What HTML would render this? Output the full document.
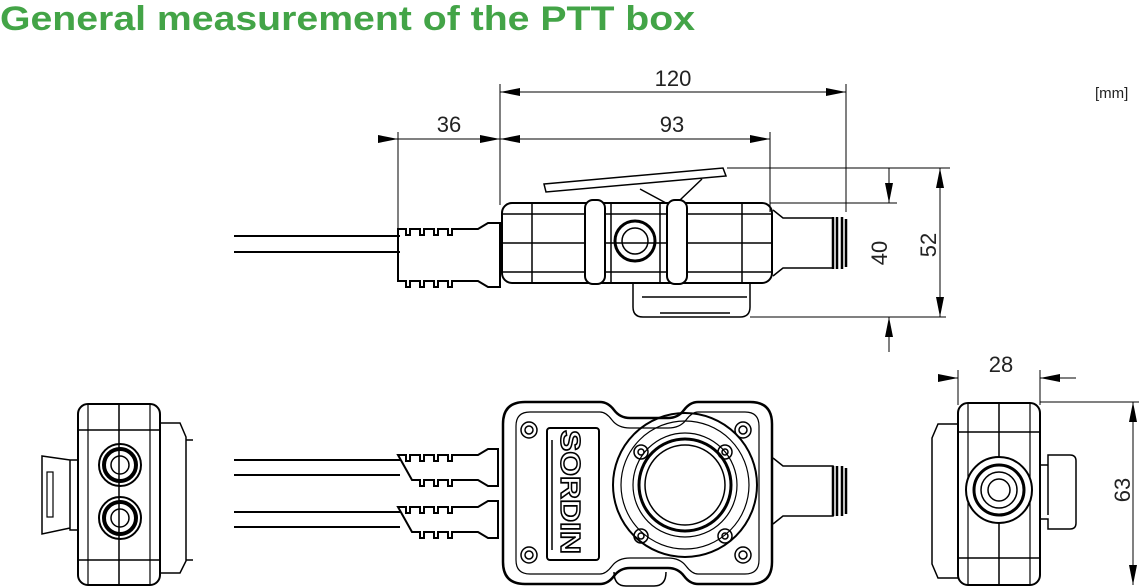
<!DOCTYPE html>
<html><head><meta charset="utf-8"><style>
html,body{margin:0;padding:0;background:#fff;width:1139px;height:588px;overflow:hidden}
svg{display:block}
text{font-family:"Liberation Sans",sans-serif}
</style></head><body>
<svg width="1139" height="588" viewBox="0 0 1139 588" xmlns="http://www.w3.org/2000/svg">
<defs>
<marker id="a" viewBox="0 0 20 8" refX="20" refY="4" markerWidth="20" markerHeight="8" markerUnits="userSpaceOnUse" orient="auto"><path d="M0,0 L20,4 L0,8 z" fill="#000"/></marker>
</defs>
<text x="0" y="30" font-size="34" font-weight="bold" fill="#43a447" textLength="695" lengthAdjust="spacingAndGlyphs">General measurement of the PTT box</text>
<text x="1095" y="98" font-size="15" fill="#222">[mm]</text>

<g stroke="#000" stroke-width="1" fill="none">
<line x1="500" y1="84" x2="500" y2="205"/>
<line x1="846" y1="84" x2="846" y2="212"/>
<line x1="398" y1="132" x2="398" y2="228"/>
<line x1="770" y1="132" x2="770" y2="212"/>
<line x1="727" y1="168" x2="950" y2="168"/>
<line x1="770" y1="203" x2="897" y2="203"/>
<line x1="750" y1="317" x2="946" y2="317"/>
<line x1="958" y1="370" x2="958" y2="405"/>
<line x1="1040" y1="370" x2="1040" y2="405"/>
<line x1="1040" y1="402" x2="1139" y2="402"/>
<line x1="520" y1="92" x2="500" y2="92" marker-end="url(#a)"/>
<line x1="826" y1="92" x2="846" y2="92" marker-end="url(#a)"/>
<line x1="520" y1="92" x2="826" y2="92"/>
<line x1="378" y1="139" x2="398" y2="139" marker-end="url(#a)"/>
<line x1="398" y1="139" x2="480" y2="139"/>
<line x1="480" y1="139" x2="500" y2="139" marker-end="url(#a)"/>
<line x1="520" y1="139" x2="500" y2="139" marker-end="url(#a)"/>
<line x1="520" y1="139" x2="750" y2="139"/>
<line x1="750" y1="139" x2="770" y2="139" marker-end="url(#a)"/>
<line x1="889" y1="168" x2="889" y2="203" marker-end="url(#a)"/>
<line x1="889" y1="352" x2="889" y2="317" marker-end="url(#a)"/>
<line x1="940" y1="190" x2="940" y2="168" marker-end="url(#a)"/>
<line x1="940" y1="295" x2="940" y2="317" marker-end="url(#a)"/>
<line x1="940" y1="190" x2="940" y2="295"/>
<line x1="938" y1="378" x2="958" y2="378" marker-end="url(#a)"/>
<line x1="1076" y1="378" x2="1040" y2="378" marker-end="url(#a)"/>
<line x1="1133" y1="424" x2="1133" y2="402" marker-end="url(#a)"/>
<line x1="1133" y1="563" x2="1133" y2="585" marker-end="url(#a)"/>
<line x1="1133" y1="424" x2="1133" y2="563"/>
</g>
<g font-size="22" fill="#222" text-anchor="middle">
<text x="673" y="86">120</text>
<text x="449" y="132">36</text>
<text x="672" y="132">93</text>
<text x="1001" y="372">28</text>
<text transform="translate(887,253) rotate(-90)">40</text>
<text transform="translate(936,245) rotate(-90)">52</text>
<text transform="translate(1130,490) rotate(-90)">63</text>
</g>

<g stroke="#000" stroke-width="2" fill="none">
<!-- TOP VIEW -->
<line x1="234" y1="236" x2="400" y2="236"/>
<line x1="234" y1="252" x2="400" y2="252"/>
<path d="M398,229 h8 v6 h4 v-6 h10 v6 h4 v-6 h10 v6 h4 v-6 h10 v6 h4 v-6 h26 l10,-6 h12 v64 h-12 l-10,-6 h-26 v6 h-4 v-6 h-10 v6 h-4 v-6 h-10 v6 h-4 v-6 h-10 v6 h-4 v-6 h-8 z"/>
<rect x="502" y="203" width="270" height="80" rx="10"/>
<line x1="502" y1="214" x2="772" y2="214" stroke-width="1.5"/>
<line x1="502" y1="243" x2="772" y2="243" stroke-width="1.5"/>
<line x1="502" y1="272" x2="772" y2="272" stroke-width="1.5"/>
<line x1="532" y1="203" x2="532" y2="283" stroke-width="1.5"/>
<line x1="742" y1="203" x2="742" y2="283" stroke-width="1.5"/>
<line x1="611" y1="203" x2="611" y2="283" stroke-width="1.5"/>
<line x1="660" y1="203" x2="660" y2="283" stroke-width="1.5"/>
<rect x="585" y="200" width="20" height="84" rx="8" fill="#fff"/>
<rect x="667" y="200" width="20" height="84" rx="8" fill="#fff"/>
<circle cx="635" cy="241" r="20" stroke-width="3"/>
<circle cx="635" cy="241" r="13" stroke-width="1.5"/>
<path d="M544,184 L723,168 L726,176 L546,192 z" stroke-width="1.5"/>
<path d="M640,189 L666,203 M702,179 L680,200" stroke-width="1.5"/>
<path d="M633,283 v24 q0,10 10,10 h97 q10,0 10,-10 v-24" stroke-width="1.5"/>
<path d="M642,297 h105 M660,313 h70" stroke-width="1.5"/>
<path d="M773,210 l10,8 h50 v50 h-50 l-10,8" stroke-width="1.5"/>
<path d="M833,217 v52 M837,217 v52 M842,217 v52 M846,219 v48" stroke-width="2.5"/>

<!-- FRONT VIEW -->
<line x1="234" y1="460" x2="400" y2="460"/>
<line x1="234" y1="475" x2="400" y2="475"/>
<line x1="234" y1="512" x2="400" y2="512"/>
<line x1="234" y1="527" x2="400" y2="527"/>
<path d="M398,455 h8 v6 h4 v-6 h10 v6 h4 v-6 h10 v6 h4 v-6 h10 v6 h4 v-6 h26 l10,-6 h10 v37 h-10 l-10,-6 h-26 v6 h-4 v-6 h-10 v6 h-4 v-6 h-10 v6 h-4 v-6 h-8 z"/>
<path d="M398,507 h8 v6 h4 v-6 h10 v6 h4 v-6 h10 v6 h4 v-6 h10 v6 h4 v-6 h26 l10,-6 h10 v37 h-10 l-10,-6 h-26 v6 h-4 v-6 h-10 v6 h-4 v-6 h-10 v6 h-4 v-6 h-8 z"/>
<path d="M525,402 h75 q8,0 14,8 q6,8 16,8 h38 q10,0 16,-8 q6,-8 14,-8 h52 q22,0 22,22 v138 q0,22 -22,22 h-52 q-8,0 -14,-8 q-6,-8 -16,-8 h-38 q-10,0 -16,8 q-6,8 -14,8 h-75 q-22,0 -22,-22 v-138 q0,-22 22,-22 z" stroke-width="2.5"/>
<path d="M530,412 h70 q6,0 12,8 q6,8 18,8 h38 q12,0 18,-8 q6,-8 12,-8 h47 q14,0 14,14 v134 q0,14 -14,14 h-47 q-6,0 -12,-8 q-6,-8 -18,-8 h-38 q-12,0 -18,8 q-6,8 -12,8 h-70 q-14,0 -14,-14 v-134 q0,-14 14,-14 z" stroke-width="1.2"/>
<rect x="547" y="428" width="52" height="132" rx="3"/>
<line x1="552" y1="440" x2="552" y2="550" stroke-width="1.5"/>
<text x="0" y="0" transform="translate(561,430) rotate(90)" font-size="28" font-weight="bold" fill="#fff" stroke="#000" stroke-width="1.5" textLength="124" lengthAdjust="spacingAndGlyphs">SORDIN</text>
<circle cx="685" cy="485" r="72" stroke-width="2"/>
<circle cx="685" cy="485" r="64" stroke-width="1.2"/>
<circle cx="685" cy="485" r="52" stroke-width="1.2"/>
<circle cx="685" cy="485" r="46" stroke-width="3"/>
<circle cx="685" cy="485" r="40" stroke-width="1.5"/>
<g stroke-width="1.5">
<circle cx="641" cy="452" r="7"/><circle cx="641" cy="452" r="3"/>
<circle cx="725" cy="452" r="7"/><circle cx="725" cy="452" r="3"/>
<circle cx="641" cy="536" r="7"/><circle cx="641" cy="536" r="3"/>
<circle cx="725" cy="536" r="7"/><circle cx="725" cy="536" r="3"/>
<circle cx="529" cy="430" r="8"/><circle cx="529" cy="430" r="4"/>
<circle cx="743" cy="430" r="8"/><circle cx="743" cy="430" r="4"/>
<circle cx="529" cy="555" r="8"/><circle cx="529" cy="555" r="4"/>
<circle cx="743" cy="555" r="8"/><circle cx="743" cy="555" r="4"/>
</g>
<path d="M773,458 l10,8 h50 v50 h-50 l-10,8" stroke-width="1.5"/>
<path d="M833,466 v50 M837,466 v50 M842,466 v50 M846,468 v46" stroke-width="2.5"/>
<path d="M614,572 q0,14 12,14 h28 q12,0 12,-14" stroke-width="1.5"/>

<!-- LEFT VIEW -->
<rect x="78" y="404" width="82" height="181" rx="10"/>
<line x1="119" y1="404" x2="119" y2="585" stroke-width="1.5"/>
<line x1="78" y1="430" x2="160" y2="430" stroke-width="1.5"/>
<line x1="78" y1="560" x2="160" y2="560" stroke-width="1.5"/>
<line x1="88" y1="404" x2="88" y2="585" stroke-width="1.2"/>
<line x1="150" y1="404" x2="150" y2="585" stroke-width="1.2"/>
<path d="M160,423 h20 l6,14 v124 l-6,12 h-20" stroke-width="1.5"/>
<line x1="186" y1="440" x2="193" y2="440" stroke-width="1.5"/>
<line x1="186" y1="560" x2="193" y2="560" stroke-width="1.5"/>
<path d="M78,460 h-8 v70 h8 M70,460 l-28,-4 v78 l28,-6" stroke-width="1.5"/>
<rect x="47" y="472" width="6" height="45" stroke-width="1.2"/>
<circle cx="120" cy="465" r="21"/><circle cx="120" cy="465" r="16" stroke-width="4"/><circle cx="120" cy="465" r="9" stroke-width="1.5"/>
<circle cx="120" cy="518" r="21"/><circle cx="120" cy="518" r="16" stroke-width="4"/><circle cx="120" cy="518" r="9" stroke-width="1.5"/>

<!-- RIGHT VIEW -->
<rect x="958" y="403" width="82" height="182" rx="10"/>
<line x1="999" y1="403" x2="999" y2="585" stroke-width="1.5"/>
<line x1="958" y1="432" x2="1040" y2="432" stroke-width="1.5"/>
<line x1="958" y1="558" x2="1040" y2="558" stroke-width="1.5"/>
<line x1="968" y1="403" x2="968" y2="585" stroke-width="1.2"/>
<line x1="1030" y1="403" x2="1030" y2="585" stroke-width="1.2"/>
<path d="M958,424 h-20 l-6,14 v126 l6,14 h20" stroke-width="1.5"/>
<path d="M1040,465 h8 v-10 h22 q6,0 6,6 v62 q0,6 -6,6 h-22 v-10 h-8 M1048,465 v50" stroke-width="1.5"/>
<circle cx="999" cy="490" r="33" fill="#fff"/>
<circle cx="999" cy="490" r="25" stroke-width="3"/>
<circle cx="999" cy="490" r="18" stroke-width="1.5"/>
<circle cx="999" cy="490" r="11" stroke-width="1.5"/>
</g>
</svg>
</body></html>
